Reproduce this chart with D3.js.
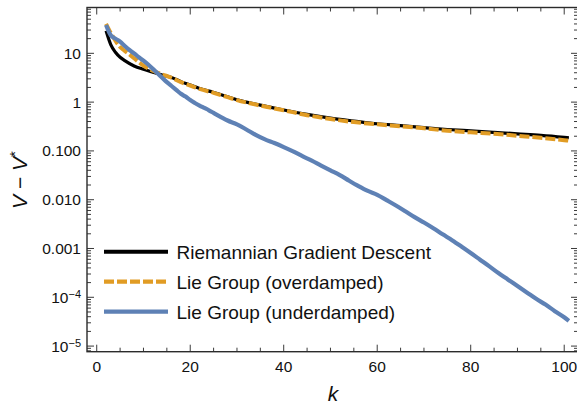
<!DOCTYPE html>
<html>
<head>
<meta charset="utf-8">
<script src="https://cdn.jsdelivr.net/npm/d3@7"></script>
<style>
  html, body { margin: 0; padding: 0; background: #fff; }
  svg { display: block; font-family: "Liberation Sans", Arial, sans-serif; }
</style>
</head>
<body>
<svg id="chart" width="577" height="407"></svg>
<script>
// ---- data ----
const kRGD = [2,3,4,5,6,8,10,12,14,16,18,20,22,25,28,30,35,40,45,50,55,60,65,70,75,80,85,90,95,100,101];
const rgd  = [29,15.1,10.5,8.3,7.1,5.5,4.7,4.1,3.6,3.2,2.63,2.24,1.9,1.58,1.29,1.12,0.87,0.69,0.56,0.47,0.41,0.36,0.33,0.30,0.275,0.257,0.24,0.224,0.209,0.19,0.186];

const kOver = [2,3,4,5,6,7,8,9,10,12,14,16,18,20,22,25,28,30,35,40,45,50,55,60,65,70,75,80,85,90,95,100,101];
const over  = [40,26.3,18.2,13.5,11.2,9.5,7.9,6.6,5.6,4.4,3.7,3.16,2.57,2.19,1.86,1.55,1.26,1.10,0.85,0.68,0.54,0.45,0.39,0.35,0.32,0.29,0.26,0.24,0.224,0.204,0.186,0.166,0.162];

const kUnder = [2,3,4,5,6,7,8,9,10,11,12,13,14,15,16,17,18,19,20,21,22,23,24,25,26,27,28,30,32,34,36,38,40,42,44,46,48,50,52,54,56,58,60,62,64,66,68,70,72,74,76,78,80,82,84,86,88,90,92,94,96,98,100,101];
const under  = [38,23.4,20.0,17.4,14.1,11.7,10.0,8.3,7.1,5.9,4.8,3.9,3.16,2.57,2.14,1.78,1.48,1.3,1.1,0.96,0.85,0.76,0.68,0.60,0.53,0.47,0.42,0.35,0.275,0.213,0.172,0.145,0.12,0.098,0.078,0.063,0.050,0.040,0.032,0.0245,0.019,0.0151,0.0126,0.0098,0.0076,0.0058,0.0044,0.0034,0.0026,0.00195,0.00148,0.0011,0.00081,0.00059,0.00043,0.00031,0.00023,0.00017,0.000126,0.000093,0.000071,0.000052,0.000039,0.000033];

const xTickMajor = [0,20,40,60,80,100];
const yTickMajor = [10,1,0.1,0.01,0.001,1e-4,1e-5];
const yTickLabels = ["10","1","0.100","0.010","0.001","10^-4","10^-5"];
const seriesNames = ["Riemannian Gradient Descent","Lie Group (overdamped)","Lie Group (underdamped)"];
const seriesColors = ["#000000","#E19C24","#5E81B5"];

// ---- layout ----
const L = 87, R = 578, T = 7.5, B = 351.7;
const svg = d3.select("#chart");

const x = d3.scaleLinear().domain([-2.08, 102.95]).range([L, R]);
const y = d3.scaleLog().domain([Math.pow(10,-5.115), Math.pow(10,1.939)]).range([B, T]);

// minor ticks
const xMinor = d3.range(5, 101, 5).filter(v => v % 20 !== 0);
const yMinor = [];
for (let e = -6; e <= 1; e++) {
  for (let m = 2; m <= 9; m++) {
    const v = m * Math.pow(10, e);
    if (v >= y.domain()[0] && v <= y.domain()[1]) yMinor.push(v);
  }
}

const tickColor = "#3a3a3a";
const gT = svg.append("g");
xTickMajor.forEach(v => {
  gT.append("line").attr("x1", x(v)).attr("x2", x(v)).attr("y1", B).attr("y2", B-7);
  gT.append("line").attr("x1", x(v)).attr("x2", x(v)).attr("y1", T).attr("y2", T+7);
});
xMinor.forEach(v => {
  gT.append("line").attr("x1", x(v)).attr("x2", x(v)).attr("y1", B).attr("y2", B-4);
  gT.append("line").attr("x1", x(v)).attr("x2", x(v)).attr("y1", T).attr("y2", T+4);
});
yTickMajor.forEach(v => {
  gT.append("line").attr("x1", L).attr("x2", L+7).attr("y1", y(v)).attr("y2", y(v));
  gT.append("line").attr("x1", R).attr("x2", R-7).attr("y1", y(v)).attr("y2", y(v));
});
yMinor.forEach(v => {
  gT.append("line").attr("x1", L).attr("x2", L+4).attr("y1", y(v)).attr("y2", y(v));
  gT.append("line").attr("x1", R).attr("x2", R-4).attr("y1", y(v)).attr("y2", y(v));
});
gT.selectAll("line").attr("stroke", tickColor).attr("stroke-width", 1);

// frame
svg.append("rect").attr("x", L).attr("y", T).attr("width", R-L).attr("height", B-T)
  .attr("fill", "none").attr("stroke", "#2b2b2b").attr("stroke-width", 1.4);

// x tick labels
svg.append("g").selectAll("text").data(xTickMajor).join("text")
  .attr("x", d => x(d)).attr("y", 371.5).attr("text-anchor", "middle")
  .attr("font-size", 15.5).attr("fill", "#111").text(d => d);

// y tick labels
yTickMajor.forEach((v, i) => {
  const lab = yTickLabels[i];
  const t = svg.append("text").attr("x", 81).attr("y", y(v)).attr("dy", "0.36em")
    .attr("text-anchor", "end").attr("font-size", 15.5).attr("fill", "#111");
  if (lab.includes("^")) {
    const [base, ex] = lab.split("^");
    t.append("tspan").text(base);
    t.append("tspan").attr("dy", "-0.45em").attr("font-size", 11).text(ex.replace("-", "\u2212"));
  } else {
    t.text(lab);
  }
});

// curves
const line = d3.line().x(d => x(d[0])).y(d => y(d[1])).curve(d3.curveMonotoneX);
const zip = (a, b) => a.map((v, i) => [v, b[i]]);
const g = svg.append("g");
g.append("path").attr("d", line(zip(kRGD, rgd))).attr("fill", "none")
  .attr("stroke", seriesColors[0]).attr("stroke-width", 3.2);
g.append("path").attr("d", line(zip(kOver, over))).attr("fill", "none")
  .attr("stroke", seriesColors[1]).attr("stroke-width", 4).attr("stroke-dasharray", "10,3");
g.append("path").attr("d", line(zip(kUnder, under))).attr("fill", "none")
  .attr("stroke", seriesColors[2]).attr("stroke-width", 4.2).attr("stroke-linejoin", "round");

// legend
const legY = [251.7, 281.7, 311.7];
seriesNames.forEach((name, i) => {
  const ln = svg.append("line").attr("x1", 104).attr("x2", 168).attr("y1", legY[i]).attr("y2", legY[i])
    .attr("stroke", seriesColors[i]).attr("stroke-width", i === 0 ? 4 : 4.2);
  if (i === 1) ln.attr("stroke-dasharray", "10,3");
  svg.append("text").attr("x", 176.5).attr("y", legY[i]).attr("dy", "0.36em")
    .attr("font-size", 19).attr("fill", "#111").text(name);
});

// axis titles
svg.append("text").attr("x", 333).attr("y", 401).attr("text-anchor", "middle")
  .attr("font-size", 21).attr("font-style", "italic").attr("fill", "#111").text("k");

const yt = svg.append("text").attr("transform", "translate(27,180) rotate(-90)")
  .attr("text-anchor", "middle").attr("font-size", 21).attr("fill", "#111");
yt.append("tspan").attr("font-style", "italic").text("V");
yt.append("tspan").text(" \u2212 ");
yt.append("tspan").attr("font-style", "italic").text("V");
yt.append("tspan").attr("dy", "-0.45em").attr("font-size", 15).text("*");
</script>
</body>
</html>
